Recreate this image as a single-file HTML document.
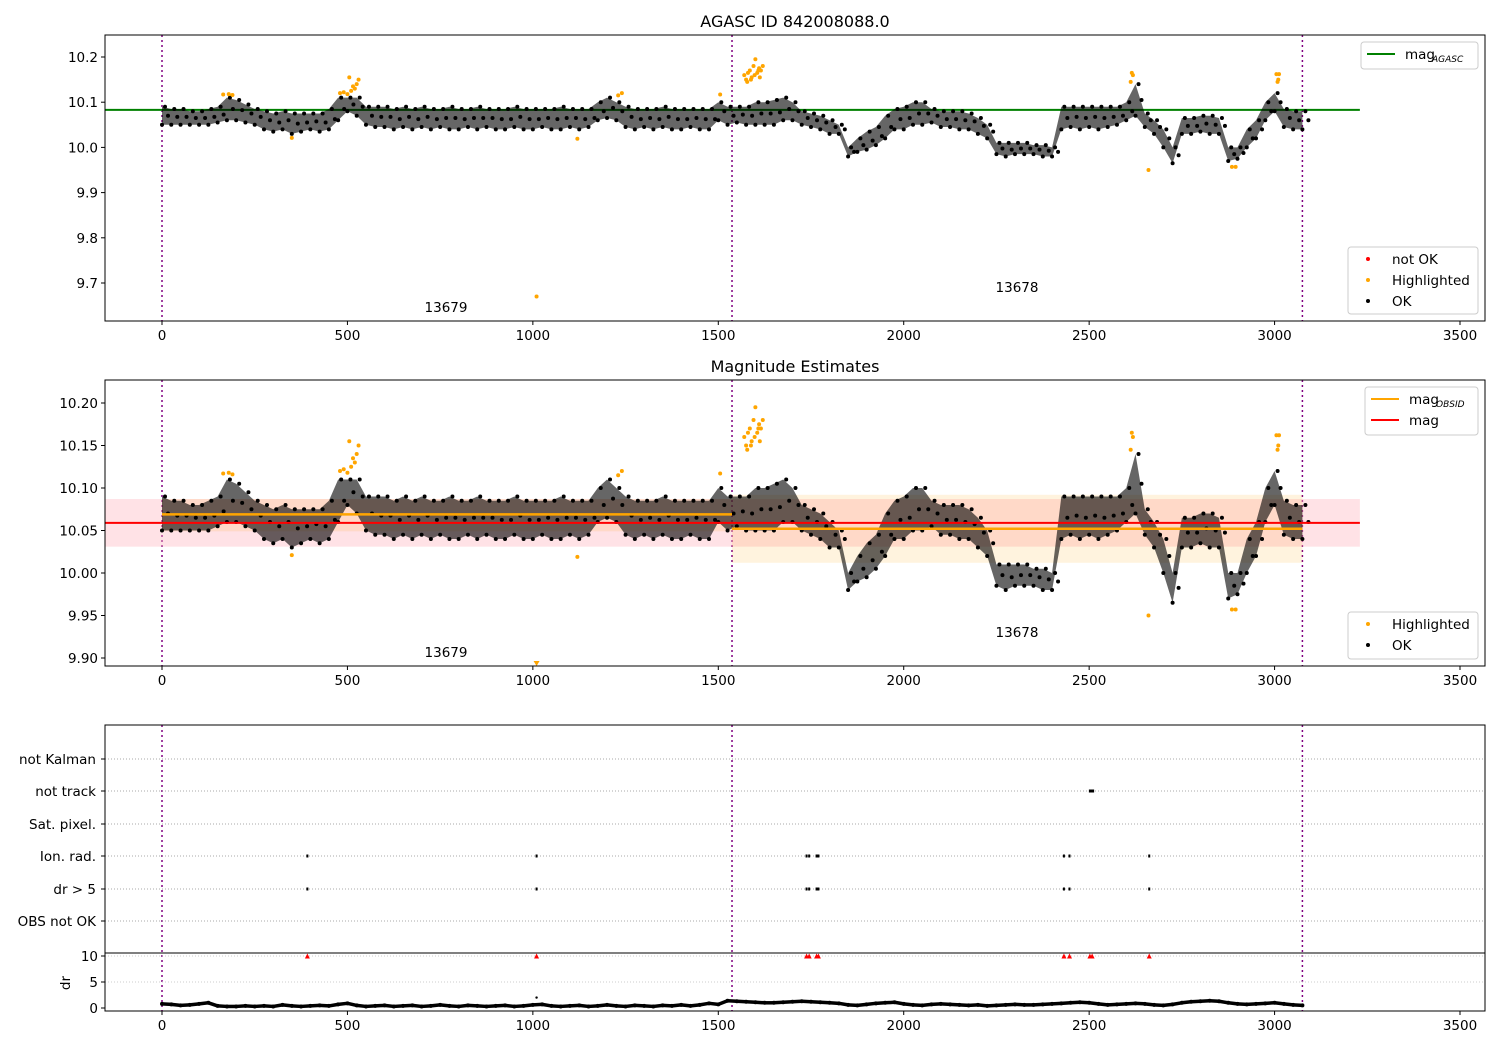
<!DOCTYPE html>
<html><head><meta charset="utf-8"><style>
body{margin:0;background:#fff}
svg text{font-family:"DejaVu Sans","Liberation Sans",sans-serif;font-size:13.5px;fill:#000}
</style></head><body>
<svg id="c" width="1500" height="1050" xmlns="http://www.w3.org/2000/svg"></svg>
<script>
const loMag=[10.05,10.05,10.05,10.05,10.05,10.05,10.055,10.06,10.06,10.055,10.05,10.04,10.035,10.04,10.03,10.035,10.04,10.035,10.04,10.06,10.08,10.07,10.05,10.045,10.045,10.04,10.045,10.04,10.045,10.04,10.045,10.04,10.04,10.045,10.04,10.045,10.04,10.04,10.045,10.04,10.04,10.045,10.04,10.04,10.045,10.04,10.045,10.06,10.065,10.06,10.045,10.04,10.045,10.04,10.045,10.04,10.04,10.045,10.04,10.04,10.06,10.05,10.055,10.05,10.05,10.05,10.05,10.06,10.06,10.05,10.045,10.04,10.03,10.03,9.98,9.99,9.995,10.005,10.02,10.04,10.04,10.05,10.05,10.055,10.045,10.045,10.04,10.04,10.03,10.02,9.985,9.98,9.985,9.985,9.985,9.98,9.98,10.04,10.045,10.04,10.045,10.04,10.045,10.05,10.06,10.07,10.045,10.03,10.0,9.965,10.03,10.03,10.035,10.03,10.03,9.97,9.975,10.0,10.02,10.06,10.08,10.045,10.04,10.04];
const hiMag=[10.09,10.085,10.085,10.08,10.08,10.085,10.09,10.11,10.105,10.095,10.085,10.08,10.075,10.08,10.075,10.075,10.075,10.075,10.085,10.11,10.11,10.11,10.09,10.09,10.09,10.085,10.09,10.085,10.09,10.085,10.085,10.09,10.085,10.085,10.09,10.085,10.085,10.085,10.09,10.085,10.085,10.085,10.085,10.09,10.085,10.085,10.085,10.1,10.11,10.1,10.09,10.085,10.085,10.085,10.09,10.085,10.085,10.085,10.085,10.085,10.1,10.09,10.09,10.09,10.1,10.1,10.105,10.11,10.1,10.08,10.075,10.07,10.06,10.05,10.0,10.02,10.035,10.045,10.07,10.085,10.09,10.1,10.1,10.085,10.08,10.08,10.08,10.075,10.065,10.05,10.01,10.01,10.01,10.01,10.005,10.005,10.0,10.09,10.09,10.09,10.09,10.09,10.09,10.09,10.1,10.14,10.075,10.06,10.04,10.0,10.065,10.065,10.07,10.07,10.065,10.0,10.0,10.04,10.06,10.1,10.12,10.085,10.08,10.08];
const drVals=[0.8,0.7,0.5,0.6,0.8,1.0,0.4,0.3,0.3,0.4,0.3,0.4,0.3,0.6,0.4,0.3,0.4,0.5,0.4,0.7,0.9,0.5,0.3,0.4,0.5,0.3,0.4,0.5,0.3,0.4,0.6,0.4,0.3,0.5,0.4,0.3,0.4,0.5,0.3,0.4,0.6,0.7,0.4,0.3,0.4,0.5,0.3,0.4,0.6,0.4,0.3,0.5,0.4,0.3,0.5,0.4,0.6,0.4,0.6,0.9,0.7,1.4,1.3,1.2,1.1,1.0,1.0,1.1,1.2,1.3,1.2,1.1,1.0,0.9,0.6,0.5,0.7,0.9,1.0,1.1,0.8,0.6,0.5,0.7,0.8,0.7,0.6,0.5,0.6,0.4,0.5,0.6,0.7,0.6,0.6,0.7,0.8,0.9,1.0,1.1,1.0,0.8,0.6,0.7,0.8,0.9,0.8,0.6,0.5,0.7,1.0,1.2,1.3,1.4,1.3,1.0,0.8,0.7,0.8,0.9,1.0,0.8,0.6,0.5];
const hlX=[165,180,190,350,480,490,500,510,520,525,530,505,515,1010,1120,1230,1240,1505,1570,1575,1580,1585,1590,1595,1600,1605,1610,1615,1620,1578,1588,1598,1608,1612,2612,2615,2618,2660,2885,2895,3005,3012,3010,3008];
const hlY=[10.117,10.118,10.116,10.021,10.12,10.122,10.118,10.125,10.13,10.14,10.15,10.155,10.135,9.67,10.019,10.115,10.12,10.117,10.16,10.15,10.165,10.17,10.155,10.18,10.195,10.165,10.175,10.17,10.18,10.145,10.15,10.16,10.17,10.155,10.145,10.165,10.16,9.95,9.957,9.957,10.162,10.162,10.15,10.145];
const flagX=[392,1010,1738,1745,1765,1770,2432,2447,2662];
const trackX=[2502,2508];
const cats=["not Kalman","not track","Sat. pixel.","Ion. rad.","dr > 5","OBS not OK"];
const xTicks=[0,500,1000,1500,2000,2500,3000,3500];
const y1Ticks=[10.2,10.1,10.0,9.9,9.8,9.7];
const y2Ticks=[10.20,10.15,10.10,10.05,10.00,9.95,9.90];
const drTicks=[10,5,0];
const obsBounds=[0,1537,3075];
const magAgasc=10.083, magAll=10.059, magObs=[10.069,10.052], obsLo=[10.049,10.012], obsHi=[10.087,10.092], allLo=10.031, allHi=10.087;

const S=document.getElementById('c'),NS='http://www.w3.org/2000/svg';
function el(t,a,p){const e=document.createElementNS(NS,t);for(const k in a)e.setAttribute(k,a[k]);(p||S).appendChild(e);return e;}
function txt(x,y,s,anchor,extra,p){const e=el('text',Object.assign({x:x,y:y,'text-anchor':anchor||'start'},extra||{}),p);e.textContent=s;return e;}
const X=v=>162+v*0.37086;
const P1=v=>57+(10.2-v)*452;
const P2=v=>403+(10.2-v)*850;
const PD=v=>1008-v*5.2;
const L=105,R=1485;

function panel(name,top,bot){
  const g=el('g',{});
  
  
  obsBounds.forEach(b=>{const l=el('line',{x1:X(b),x2:X(b),y1:top,y2:bot,stroke:'purple','stroke-width':1.5,'stroke-dasharray':'2,3'},g);});
  return g;
}
function axes(top,bot,Y,ticks,dec,g){
  el('rect',{x:L,y:top,width:R-L,height:bot-top,fill:'none',stroke:'#000','stroke-width':1},g);
  xTicks.forEach(t=>{el('line',{x1:X(t),x2:X(t),y1:bot,y2:bot+4,stroke:'#000'},g);const e=txt(X(t),bot+19,String(t),'middle',{},g);});
  if(ticks)ticks.forEach(t=>{el('line',{x1:L-4,x2:L,y1:Y(t),y2:Y(t),stroke:'#000'},g);const e=txt(L-7,Y(t)+5,t.toFixed(dec),'end',{},g);});
}
function cloud(Y,g,clipBot){
  let pts=[];
  loMag.forEach((v,i)=>pts.push(X(i*25)+','+Y(hiMag[i])));
  for(let i=loMag.length-1;i>=0;i--)pts.push(X(i*25)+','+Y(loMag[i]));
  const p=el('polygon',{points:pts.join(' '),fill:'#000','fill-opacity':0.6},g);
  
  loMag.forEach((v,i)=>{
    [v,hiMag[i],(v+hiMag[i])/2].forEach((m,j)=>{
      const c=el('circle',{cx:X(i*25)+j*3,cy:Y(m),r:2,fill:'#000'},g);
      
    });
  });
  hlX.forEach((x,i)=>{
    const yy=Y(hlY[i]);
    if(yy>clipBot){const t=el('polygon',{points:`${X(x)-3},${clipBot-5} ${X(x)+3},${clipBot-5} ${X(x)},${clipBot}`,fill:'orange'},g);return;}
    const c=el('circle',{cx:X(x),cy:yy,r:2,fill:'orange'},g);
    
  });
}
function legend(x,y,w,h,items,g){
  el('rect',{x:x,y:y,width:w,height:h,fill:'#fff','fill-opacity':0.85,stroke:'#ccc',rx:3},g);
  items.forEach((it,i)=>{
    const yy=y+12+i*21;
    if(it.t==='line')el('line',{x1:x+6,x2:x+34,y1:yy,y2:yy,stroke:it.c,'stroke-width':2},g);
    else el('circle',{cx:x+20,cy:yy,r:2,fill:it.c},g);
    const e=txt(x+it.off,yy+5,it.s,'start',{},g);
    if(it.sub)txt(x+it.off+27,yy+8,it.sub,'start',{style:'font-size:9px;font-style:italic'},g);
  });
}
// Panel 1
const g1=panel('magnitude-panel',35,321);
const gl=el('line',{x1:L,x2:X(3230),y1:P1(magAgasc),y2:P1(magAgasc),stroke:'green','stroke-width':2},g1);

cloud(P1,g1,321);
axes(35,321,P1,y1Ticks,1,g1);
txt(795,27,'AGASC ID 842008088.0','middle',{style:'font-size:16px'});
txt(446,312,'13679','middle');txt(1017,292,'13678','middle');
legend(1361,42,117,27,[{t:'line',c:'green',s:'mag',sub:'AGASC',off:44}],g1);
legend(1348,247,130,67,[{c:'red',s:'not OK',off:44},{c:'orange',s:'Highlighted',off:44},{c:'#000',s:'OK',off:44}],g1);

// Panel 2
const g2=panel('magnitude-estimates-panel',380,666);
el('rect',{x:L,y:P2(allHi),width:X(3230)-L,height:P2(allLo)-P2(allHi),fill:'#ffb6c1','fill-opacity':0.4},g2);
[0,1].forEach(k=>{
  el('rect',{x:X(obsBounds[k]),y:P2(obsHi[k]),width:X(obsBounds[k+1])-X(obsBounds[k]),height:P2(obsLo[k])-P2(obsHi[k]),fill:'orange','fill-opacity':0.13},g2);
});
cloud(P2,g2,666);
[0,1].forEach(k=>{const l=el('line',{x1:X(obsBounds[k]),x2:X(obsBounds[k+1]),y1:P2(magObs[k]),y2:P2(magObs[k]),stroke:'orange','stroke-width':2.5},g2);});
const rl=el('line',{x1:L,x2:X(3230),y1:P2(magAll),y2:P2(magAll),stroke:'red','stroke-width':2},g2);

axes(380,666,P2,y2Ticks,2,g2);
txt(795,372,'Magnitude Estimates','middle',{style:'font-size:16px'});
txt(446,657,'13679','middle');txt(1017,637,'13678','middle');
legend(1365,387,113,48,[{t:'line',c:'orange',s:'mag',sub:'OBSID',off:44},{t:'line',c:'red',s:'mag',off:44}],g2);
legend(1348,612,130,47,[{c:'orange',s:'Highlighted',off:44},{c:'#000',s:'OK',off:44}],g2);

// Panel 3 flags
const g3=panel('flags-panel',725,1011);
const catY=[759,791,824,856,889,921];
cats.forEach((c,i)=>{
  el('line',{x1:L,x2:R,y1:catY[i],y2:catY[i],stroke:'#aaa','stroke-dasharray':'1,2'},g3);
  el('line',{x1:L-4,x2:L,y1:catY[i],y2:catY[i],stroke:'#000'},g3);
  const e=txt(L-9,catY[i]+5,c,'end',{},g3);
});
[856,889].forEach(y=>flagX.forEach(x=>{const c=el('rect',{x:X(x)-1,y:y-1.5,width:2,height:3,fill:'#000'},g3);}));
trackX.forEach(x=>{const c=el('rect',{x:X(x)-1,y:789.5,width:3,height:3,fill:'#000'},g3);});
[5,10].forEach(t=>el('line',{x1:L,x2:R,y1:PD(t),y2:PD(t),stroke:'#ccc','stroke-dasharray':'1,2'},g3));
drVals.forEach((v,i)=>{const c=el('circle',{cx:X(i*25),cy:PD(v),r:2,fill:'#000'},g3);
  if(i<drVals.length-1)el('line',{x1:X(i*25),x2:X((i+1)*25),y1:PD(v),y2:PD(drVals[i+1]),stroke:'#000','stroke-width':3.5},g3);});
flagX.concat(trackX).forEach(x=>{const t=el('polygon',{points:`${X(x)-2.5},${PD(10)+2.5} ${X(x)+2.5},${PD(10)+2.5} ${X(x)},${PD(10)-2.5}`,fill:'red'},g3);});
el('circle',{cx:X(1010),cy:PD(2),r:1.2,fill:'#000'},g3);
axes(725,1011,null,null,0,g3);
el('line',{x1:L,x2:R,y1:953,y2:953,stroke:'#000'},g3);
drTicks.forEach(t=>{el('line',{x1:L-4,x2:L,y1:PD(t),y2:PD(t),stroke:'#000'},g3);txt(L-7,PD(t)+5,String(t),'end',{},g3);});
txt(70,983,'dr','middle',{transform:'rotate(-90 70 983)'},g3);
</script>
</body></html>
